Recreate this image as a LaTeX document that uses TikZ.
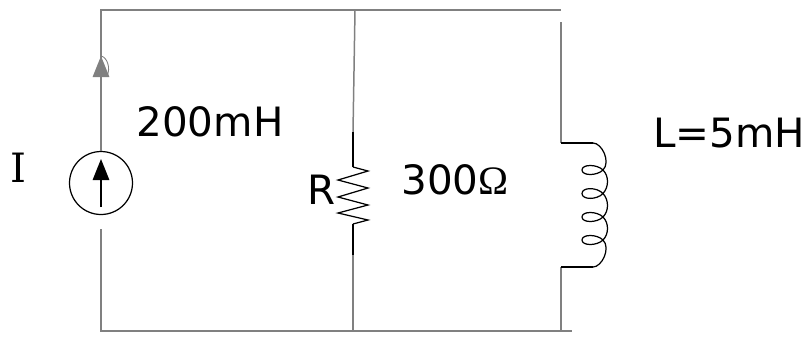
\documentclass[tikz,border=0pt]{standalone}
\usepackage{fontspec}
\setmainfont{DejaVu Sans}
\newfontfamily\serifi{DejaVu Serif}
\newfontfamily\omegafont{Liberation Serif}
\usetikzlibrary{arrows.meta}

\tikzset{
  wire/.style={draw=gray, line width=0.85pt},
  part/.style={draw=black, line width=0.7pt},
  lead/.style={draw=black, line width=1pt},
  lab/.style={inner sep=0pt, font=\fontsize{23}{25}\selectfont},
  source/.style={circle, draw=black, line width=0.7pt, minimum size=1.26cm, inner sep=0pt},
  tipa/.style={-{Triangle[length=0.42cm,width=0.33cm]}}
}

\begin{document}
\begin{tikzpicture}[x=0.02cm,y=-0.02cm]
  \useasboundingbox (0,0) rectangle (808,336);

  \node[source] (isrc) at (101,183) {};
  \coordinate (tl) at (101,10);
  \coordinate (tm) at (355,10);
  \coordinate (tr) at (561,10);
  \coordinate (bl) at (101,331);
  \coordinate (bm) at (353,331);
  \coordinate (br) at (561,331);
  \coordinate (bend) at (572,331);
  \coordinate (srcin) at (101,229);
  \coordinate (arrowbase) at (101,78);
  \coordinate (arrowtip) at (101,56);
  \coordinate (rtop) at (353,132);
  \coordinate (rbot) at (353,255);
  \coordinate (rin) at (353,167);
  \coordinate (rout) at (353,224);
  \coordinate (ltop) at (561,143);
  \coordinate (lbot) at (561,267);
  \coordinate (lin) at (593,143);
  \coordinate (lout) at (593,267);
  \coordinate (lfree) at (561,22);

  % wires
  \draw[wire] (isrc.north) -- (tl) -- (tr);
  \draw[wire] (srcin) -- (bl) -- (bend);
  \draw[wire] (tm) -- (rtop);
  \draw[wire] (rbot) -- (bm);
  \draw[wire] (lfree) -- (ltop);
  \draw[wire] (lbot) -- (br);
  \draw[wire, tipa] (arrowbase) -- (arrowtip);
  \draw[draw=gray, line width=0.5pt] (arrowtip) .. controls (107,57) and (111,68) .. (107,76);

  % source arrow
  \coordinate (isrctail) at (101,207);
  \coordinate (isrchead) at (101,159);
  \draw[part, line width=0.85pt, tipa] (isrctail) -- (isrchead);

  % resistor
  \draw[lead] (rtop) -- (rin);
  \draw[lead] (rout) -- (rbot);
  \draw[part] (rin) -- (368,171) -- (338,180) -- (368,188) -- (338,197)
    -- (368,205) -- (338,213) -- (368,220) -- (rout);

  % inductor
  \draw[lead] (ltop) -- (lin);
  \draw[lead] (lbot) -- (lout);
  \draw[part] (lin) .. controls (602,143) and (611,162) .. (603,170)
    .. controls (597,176) and (582,176) .. (582,170)
    .. controls (582,164) and (597,164) .. (603,170)
    .. controls (609,176) and (609,187) .. (603,193.5)
    .. controls (597,200) and (582,200) .. (582,193.5)
    .. controls (582,187) and (597,187) .. (603,193.5)
    .. controls (609,200) and (609,211) .. (603,217)
    .. controls (597,223) and (582,223) .. (582,217)
    .. controls (582,211) and (597,211) .. (603,217)
    .. controls (609,223) and (609,234) .. (603,240)
    .. controls (597,246) and (582,246) .. (582,240)
    .. controls (582,234) and (597,234) .. (603,240)
    .. controls (611,248) and (602,267) .. (lout);

  % labels
  \node[lab] (ilab) at (18,168) {\serifi I};
  \node[lab] (indval) at (210,122) {200mH};
  \node[lab] (rlab) at (322,190) {R};
  \node[lab] (resval) at (455,180) {300{\omegafont Ω}};
  \node[lab] (lval) at (729,133) {L=5mH};
\end{tikzpicture}
\end{document}
